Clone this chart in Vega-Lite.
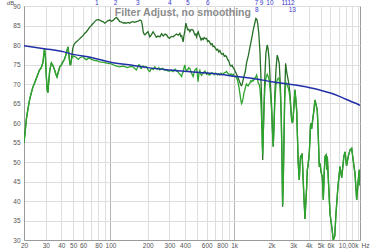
{
  "$schema": "https://vega.github.io/schema/vega-lite/v6.json",
  "width": 336,
  "height": 234,
  "autosize": "none",
  "padding": {"left": 24, "top": 6, "right": 12, "bottom": 10},
  "background": "white",
  "config": {
    "font": "Liberation Sans",
    "view": {"stroke": "#9a9a9a", "strokeWidth": 1},
    "axis": {"domainColor": "#9a9a9a", "labelColor": "#555555", "ticks": false, "gridColor": "#dedede", "gridWidth": 1, "labelOverlap": false, "labelFlush": false, "labelBound": false, "labelFontSize": 6.5, "titleFontWeight": "normal", "titleColor": "#555555"},
    "axisX": {"labelPadding": 2},
    "axisY": {"labelPadding": 4}
  },
  "datasets": {
    "before": [
      {"f":20,"db":55},{"f":20.4,"db":57.5},{"f":20.9,"db":61},{"f":21.5,"db":63.5},{"f":22.2,"db":66},{"f":22.9,"db":67.7},{"f":23.6,"db":69.2},{"f":24.4,"db":70.3},{"f":25.2,"db":71.5},{"f":26,"db":72.6},{"f":26.7,"db":73.6},{"f":27.4,"db":74},{"f":28,"db":74.8},{"f":28.5,"db":75.6},{"f":28.9,"db":77.5},{"f":29.3,"db":79},{"f":29.8,"db":77},{"f":30.3,"db":72},{"f":30.8,"db":68.5},{"f":31.2,"db":67.8},{"f":31.7,"db":70.5},{"f":32.3,"db":73.5},{"f":33.3,"db":75.4},{"f":34.2,"db":74.8},{"f":35.2,"db":73.8},{"f":36.2,"db":72.5},{"f":37,"db":71.8},{"f":37.8,"db":73},{"f":38.9,"db":74.4},{"f":40,"db":74.8},{"f":41.1,"db":75.6},{"f":42.3,"db":76.2},{"f":43.4,"db":77.2},{"f":44.4,"db":78.5},{"f":45.4,"db":79.5},{"f":46.2,"db":77.5},{"f":47,"db":75.2},{"f":47.8,"db":75},{"f":48.6,"db":77},{"f":49.5,"db":79},{"f":50.5,"db":80},{"f":52,"db":80.6},{"f":54,"db":81},{"f":56,"db":81.5},{"f":58,"db":82},{"f":60,"db":82.4},{"f":62,"db":83},{"f":64,"db":83.4},{"f":66,"db":84},{"f":68,"db":84.6},{"f":70,"db":85},{"f":72.3,"db":85.5},{"f":74.5,"db":86},{"f":77,"db":86.4},{"f":79.5,"db":86.5},{"f":82,"db":86.4},{"f":84.5,"db":86.1},{"f":87,"db":86},{"f":89.9,"db":85.6},{"f":92.5,"db":85.9},{"f":95,"db":86.2},{"f":98.7,"db":86.4},{"f":102,"db":86.1},{"f":105,"db":86.3},{"f":108.4,"db":86.8},{"f":111.9,"db":87.1},{"f":115,"db":86.6},{"f":118.9,"db":86},{"f":123,"db":85.9},{"f":127,"db":85.6},{"f":131,"db":85.7},{"f":135,"db":85.6},{"f":139,"db":85.8},{"f":143,"db":85.6},{"f":147,"db":85.9},{"f":152,"db":86},{"f":157,"db":85.8},{"f":162,"db":86},{"f":168,"db":86.1},{"f":173,"db":86.4},{"f":178,"db":86.2},{"f":181,"db":85},{"f":184,"db":83.3},{"f":187,"db":82.8},{"f":190,"db":82.6},{"f":195,"db":83},{"f":201,"db":83.4},{"f":208,"db":82.1},{"f":214,"db":82.6},{"f":221,"db":83.4},{"f":228,"db":82.7},{"f":235,"db":82},{"f":242,"db":82.3},{"f":251,"db":82.1},{"f":259,"db":82.9},{"f":267,"db":82.3},{"f":276,"db":82.8},{"f":284,"db":82.6},{"f":292,"db":82},{"f":300,"db":81.7},{"f":310,"db":82.2},{"f":321,"db":82.1},{"f":332,"db":82.5},{"f":342,"db":82.8},{"f":353,"db":82.5},{"f":364,"db":83},{"f":370,"db":82.2},{"f":376,"db":82.4},{"f":382,"db":81.5},{"f":387,"db":80.8},{"f":392,"db":82.3},{"f":399,"db":83.6},{"f":407,"db":85.6},{"f":414,"db":84.6},{"f":422,"db":83.9},{"f":430,"db":84},{"f":438,"db":83.4},{"f":446,"db":83.9},{"f":455,"db":84},{"f":466,"db":83.8},{"f":473,"db":83.2},{"f":482,"db":82.6},{"f":490,"db":82.8},{"f":497,"db":82.1},{"f":505,"db":83},{"f":512,"db":83.4},{"f":520,"db":82.7},{"f":528,"db":82.2},{"f":540,"db":81.3},{"f":550,"db":81.7},{"f":561,"db":81.4},{"f":572,"db":81.9},{"f":585,"db":81.6},{"f":598,"db":81.7},{"f":610,"db":80.9},{"f":622,"db":81.1},{"f":636,"db":80.6},{"f":650,"db":80.1},{"f":663,"db":80.3},{"f":676,"db":79.6},{"f":690,"db":79.7},{"f":705,"db":79.2},{"f":720,"db":78.7},{"f":735,"db":78.9},{"f":750,"db":78.2},{"f":766,"db":78.6},{"f":782,"db":77.9},{"f":798,"db":77.6},{"f":815,"db":77.8},{"f":832,"db":77.1},{"f":850,"db":77.3},{"f":868,"db":77},{"f":885,"db":76.3},{"f":905,"db":75.9},{"f":923,"db":74.9},{"f":942,"db":74.6},{"f":962,"db":74.8},{"f":981,"db":74.2},{"f":1000,"db":73.8},{"f":1020,"db":73.2},{"f":1046,"db":72.5},{"f":1078,"db":71.5},{"f":1112,"db":70.4},{"f":1135,"db":69.7},{"f":1150,"db":69.6},{"f":1170,"db":70.4},{"f":1200,"db":72},{"f":1230,"db":73.2},{"f":1260,"db":75.5},{"f":1300,"db":77.2},{"f":1340,"db":79.4},{"f":1383,"db":81.6},{"f":1425,"db":83.8},{"f":1460,"db":85.3},{"f":1498,"db":86.8},{"f":1525,"db":86.6},{"f":1550,"db":85.5},{"f":1580,"db":83},{"f":1614,"db":78.5},{"f":1640,"db":73},{"f":1666,"db":66},{"f":1690,"db":55},{"f":1700,"db":50.5},{"f":1715,"db":56},{"f":1739,"db":63.3},{"f":1770,"db":72},{"f":1805,"db":77.9},{"f":1849,"db":80},{"f":1880,"db":79},{"f":1918,"db":76.2},{"f":1960,"db":70},{"f":2007,"db":64.5},{"f":2040,"db":58},{"f":2068,"db":53.9},{"f":2100,"db":60},{"f":2135,"db":68},{"f":2180,"db":74},{"f":2228,"db":77.4},{"f":2270,"db":76.5},{"f":2313,"db":75.3},{"f":2360,"db":70},{"f":2400,"db":62},{"f":2430,"db":53},{"f":2464,"db":38.5},{"f":2500,"db":47},{"f":2524,"db":54.8},{"f":2560,"db":67},{"f":2605,"db":75.3},{"f":2660,"db":73},{"f":2734,"db":71},{"f":2780,"db":69.5},{"f":2823,"db":67.6},{"f":2870,"db":64},{"f":2914,"db":60.8},{"f":2960,"db":60},{"f":3000,"db":61.5},{"f":3050,"db":65},{"f":3099,"db":68.5},{"f":3150,"db":66},{"f":3199,"db":63.3},{"f":3250,"db":56},{"f":3295,"db":49.6},{"f":3357,"db":45.4},{"f":3400,"db":49},{"f":3446,"db":51.8},{"f":3500,"db":51},{"f":3540,"db":52.2},{"f":3577,"db":48.8},{"f":3650,"db":42},{"f":3734,"db":35.4},{"f":3800,"db":40},{"f":3855,"db":43.7},{"f":3900,"db":48},{"f":3950,"db":49},{"f":4046,"db":52.2},{"f":4153,"db":59.9},{"f":4230,"db":58.5},{"f":4310,"db":60.8},{"f":4400,"db":63},{"f":4499,"db":65.9},{"f":4600,"db":64.5},{"f":4697,"db":63.3},{"f":4780,"db":57},{"f":4875,"db":48.8},{"f":4950,"db":49.6},{"f":5032,"db":47.5},{"f":5150,"db":46.2},{"f":5253,"db":40.3},{"f":5340,"db":47},{"f":5421,"db":51.4},{"f":5540,"db":51.8},{"f":5600,"db":48},{"f":5659,"db":51.4},{"f":5800,"db":44},{"f":5950,"db":36.8},{"f":6150,"db":33.4},{"f":6325,"db":30},{"f":6500,"db":31},{"f":6650,"db":36.8},{"f":6900,"db":43.7},{"f":7166,"db":48.8},{"f":7400,"db":46},{"f":7700,"db":51.4},{"f":7865,"db":52.6},{"f":8100,"db":49},{"f":8363,"db":51.5},{"f":8650,"db":53.1},{"f":8909,"db":53.5},{"f":9200,"db":50},{"f":9473,"db":47.1},{"f":9777,"db":40.3},{"f":10073,"db":45.4},{"f":10263,"db":48},{"f":10400,"db":44}
    ],
    "after": [
      {"f":20,"db":55},{"f":20.4,"db":57.5},{"f":20.9,"db":61},{"f":21.5,"db":63.5},{"f":22.2,"db":66},{"f":22.9,"db":67.7},{"f":23.6,"db":69.2},{"f":24.4,"db":70.3},{"f":25.2,"db":71.5},{"f":26,"db":72.6},{"f":26.7,"db":73.6},{"f":27.4,"db":74},{"f":28,"db":74.8},{"f":28.5,"db":75.6},{"f":28.9,"db":77.5},{"f":29.3,"db":79},{"f":29.8,"db":77},{"f":30.3,"db":72},{"f":30.8,"db":68.5},{"f":31.2,"db":67.8},{"f":31.7,"db":70.5},{"f":32.3,"db":73.5},{"f":33.3,"db":75.4},{"f":34.2,"db":74.8},{"f":35.2,"db":73.8},{"f":36.2,"db":72.5},{"f":37,"db":71.8},{"f":37.8,"db":73},{"f":38.9,"db":74.4},{"f":40,"db":74.8},{"f":41.1,"db":75.6},{"f":42.3,"db":76.2},{"f":43.4,"db":77.2},{"f":44.4,"db":78.5},{"f":45.4,"db":79.5},{"f":46.2,"db":77},{"f":47,"db":75},{"f":47.8,"db":75.3},{"f":48.6,"db":76.5},{"f":49.8,"db":77.2},{"f":51.5,"db":77},{"f":53,"db":76.8},{"f":55,"db":76.3},{"f":57,"db":76.8},{"f":60,"db":77},{"f":62,"db":76.5},{"f":64,"db":76.2},{"f":66,"db":76.6},{"f":68,"db":76.6},{"f":70,"db":76.3},{"f":72.3,"db":76.2},{"f":75,"db":76},{"f":77,"db":76},{"f":80,"db":75.8},{"f":82,"db":75.7},{"f":86,"db":75.6},{"f":90,"db":75.5},{"f":95,"db":75.3},{"f":100,"db":75.2},{"f":104,"db":75},{"f":108,"db":74.8},{"f":113,"db":74.6},{"f":119,"db":74.4},{"f":124,"db":74.6},{"f":130,"db":74.5},{"f":136,"db":74.2},{"f":143,"db":74.4},{"f":148,"db":74.5},{"f":152,"db":74.4},{"f":157,"db":74},{"f":162,"db":73.6},{"f":166,"db":74.3},{"f":169,"db":74.9},{"f":172,"db":74.9},{"f":175,"db":74.1},{"f":178,"db":74},{"f":182,"db":74.6},{"f":185,"db":74.6},{"f":190,"db":74.2},{"f":193,"db":74.4},{"f":196,"db":74.4},{"f":200,"db":73.8},{"f":204,"db":73.4},{"f":208,"db":73.2},{"f":212,"db":73.8},{"f":216,"db":74},{"f":222,"db":73.7},{"f":228,"db":74.4},{"f":234,"db":74},{"f":240,"db":73.8},{"f":246,"db":74.2},{"f":251,"db":73.6},{"f":258,"db":74},{"f":265,"db":74},{"f":274,"db":73.5},{"f":284,"db":73.6},{"f":292,"db":73.3},{"f":300,"db":73.3},{"f":310,"db":73.5},{"f":321,"db":73.2},{"f":328,"db":73.6},{"f":335,"db":73.8},{"f":343,"db":73.3},{"f":350,"db":73.2},{"f":357,"db":72.8},{"f":364,"db":72.5},{"f":370,"db":72.2},{"f":376,"db":71.9},{"f":382,"db":72.8},{"f":387,"db":73},{"f":393,"db":74.2},{"f":399,"db":74.9},{"f":405,"db":73.8},{"f":412,"db":73.5},{"f":420,"db":73.6},{"f":428,"db":74.2},{"f":438,"db":74},{"f":445,"db":73.3},{"f":452,"db":72.8},{"f":459,"db":72.3},{"f":466,"db":71.9},{"f":473,"db":72.8},{"f":480,"db":73.5},{"f":488,"db":73.8},{"f":497,"db":74},{"f":504,"db":72.5},{"f":511,"db":70.6},{"f":516,"db":72},{"f":522,"db":73},{"f":528,"db":73.5},{"f":536,"db":72.6},{"f":545,"db":72.2},{"f":553,"db":72.6},{"f":561,"db":72.7},{"f":570,"db":73.1},{"f":580,"db":73.3},{"f":590,"db":72.8},{"f":598,"db":72.5},{"f":608,"db":72.9},{"f":618,"db":72.4},{"f":627,"db":72.6},{"f":636,"db":72.3},{"f":648,"db":72.6},{"f":660,"db":72.9},{"f":676,"db":72.7},{"f":690,"db":72.4},{"f":705,"db":72.8},{"f":720,"db":72.7},{"f":735,"db":72.3},{"f":750,"db":72.6},{"f":766,"db":72.3},{"f":782,"db":72.8},{"f":798,"db":72.6},{"f":815,"db":72.5},{"f":832,"db":72.9},{"f":850,"db":73},{"f":868,"db":73.2},{"f":885,"db":72.8},{"f":905,"db":72.5},{"f":923,"db":72.3},{"f":942,"db":72.6},{"f":962,"db":72.2},{"f":981,"db":72.5},{"f":1000,"db":72},{"f":1013,"db":71.9},{"f":1030,"db":71.8},{"f":1046,"db":71.5},{"f":1062,"db":71},{"f":1078,"db":70.2},{"f":1095,"db":69},{"f":1112,"db":67.6},{"f":1130,"db":66},{"f":1148,"db":65},{"f":1165,"db":65.5},{"f":1183,"db":66.5},{"f":1200,"db":67.8},{"f":1221,"db":68.5},{"f":1240,"db":69.5},{"f":1260,"db":70},{"f":1280,"db":69.6},{"f":1298,"db":69.5},{"f":1320,"db":70},{"f":1340,"db":70.2},{"f":1360,"db":70.8},{"f":1383,"db":70.6},{"f":1405,"db":71},{"f":1425,"db":70.8},{"f":1450,"db":71.2},{"f":1471,"db":71.5},{"f":1495,"db":71.8},{"f":1518,"db":72.3},{"f":1540,"db":71.5},{"f":1564,"db":70.2},{"f":1590,"db":70},{"f":1614,"db":69},{"f":1640,"db":66},{"f":1666,"db":61},{"f":1690,"db":54},{"f":1700,"db":52},{"f":1715,"db":56},{"f":1739,"db":63},{"f":1770,"db":69},{"f":1805,"db":71.5},{"f":1849,"db":72.5},{"f":1880,"db":72},{"f":1918,"db":71},{"f":1960,"db":68},{"f":2007,"db":63},{"f":2040,"db":57.5},{"f":2068,"db":54},{"f":2100,"db":59},{"f":2135,"db":66},{"f":2180,"db":70},{"f":2228,"db":71},{"f":2270,"db":71.5},{"f":2313,"db":71.5},{"f":2360,"db":68},{"f":2400,"db":62},{"f":2430,"db":52},{"f":2464,"db":39},{"f":2500,"db":47},{"f":2524,"db":55},{"f":2560,"db":66},{"f":2605,"db":70.5},{"f":2660,"db":70},{"f":2734,"db":69},{"f":2780,"db":68},{"f":2823,"db":66.5},{"f":2870,"db":63.5},{"f":2914,"db":61},{"f":2960,"db":60},{"f":3000,"db":61.5},{"f":3050,"db":65},{"f":3099,"db":68.5},{"f":3150,"db":66},{"f":3199,"db":63.3},{"f":3250,"db":56},{"f":3295,"db":49.6},{"f":3357,"db":45.4},{"f":3400,"db":49},{"f":3446,"db":51.8},{"f":3500,"db":51},{"f":3540,"db":52.2},{"f":3577,"db":48.8},{"f":3650,"db":42},{"f":3734,"db":35.4},{"f":3800,"db":40},{"f":3855,"db":43.7},{"f":3900,"db":48},{"f":3950,"db":49},{"f":4046,"db":52.2},{"f":4153,"db":59.9},{"f":4230,"db":58.5},{"f":4310,"db":60.8},{"f":4400,"db":63},{"f":4499,"db":65.9},{"f":4600,"db":64.5},{"f":4697,"db":63.3},{"f":4780,"db":57},{"f":4875,"db":48.8},{"f":4950,"db":49.6},{"f":5032,"db":47.5},{"f":5150,"db":46.2},{"f":5253,"db":40.3},{"f":5340,"db":47},{"f":5421,"db":51.4},{"f":5540,"db":51.8},{"f":5600,"db":48},{"f":5659,"db":51.4},{"f":5800,"db":44},{"f":5950,"db":36.8},{"f":6150,"db":33.4},{"f":6325,"db":30},{"f":6500,"db":31},{"f":6650,"db":36.8},{"f":6900,"db":43.7},{"f":7166,"db":48.8},{"f":7400,"db":46},{"f":7700,"db":51.4},{"f":7865,"db":52.6},{"f":8100,"db":49},{"f":8363,"db":51.5},{"f":8650,"db":53.1},{"f":8909,"db":53.5},{"f":9200,"db":50},{"f":9473,"db":47.1},{"f":9777,"db":40.3},{"f":10073,"db":45.4},{"f":10263,"db":48},{"f":10400,"db":44}
    ],
    "target": [
      {"f":20,"db":79.8},{"f":30,"db":79},{"f":40,"db":78.4},{"f":50,"db":77.6},{"f":70,"db":76.8},{"f":100,"db":75.6},{"f":150,"db":74.8},{"f":200,"db":74.2},{"f":300,"db":73.6},{"f":500,"db":73},{"f":700,"db":72.6},{"f":1000,"db":72},{"f":1500,"db":71.3},{"f":2000,"db":70.6},{"f":3000,"db":69.8},{"f":4000,"db":69.1},{"f":5000,"db":68.4},{"f":6000,"db":67.7},{"f":7000,"db":66.9},{"f":8000,"db":66.1},{"f":9000,"db":65.4},{"f":10000,"db":64.8},{"f":10400,"db":64.5}
    ],
    "markersTop": [
      {"f":77.5,"n":"1"},{"f":110,"n":"2"},{"f":166,"n":"3"},{"f":302,"n":"4"},{"f":422,"n":"5"},{"f":613,"n":"6"},{"f":1518,"n":"7"},{"f":1668,"n":"9"},{"f":1945,"n":"10"},{"f":2564,"n":"11"},{"f":2882,"n":"12"}
    ],
    "markersLow": [
      {"f":1527,"n":"8"},{"f":2950,"n":"13"}
    ],
    "titleRow": [
      {"f":385,"t":"Filter Adjust, no smoothing"}
    ]
  },
  "encoding": {
    "x": {"field": "f", "type": "quantitative",
      "scale": {"type": "log", "domain": [20, 10400], "nice": false},
      "axis": {
        "values": [20,30,40,50,60,70,80,90,100,200,300,400,500,600,700,800,900,1000,2000,3000,4000,5000,6000,7000,8000,9000,10000],
        "labelExpr": "datum.value >= 10000 ? '10,00k' : (datum.value >= 1000 ? (indexof([1000,2000,3000,4000,5000,6000], datum.value) >= 0 ? (datum.value/1000) + 'k' : '') : (indexof([20,30,40,50,60,80,100,200,300,400,600,800], datum.value) >= 0 ? datum.value + '' : ''))",
        "labelAlign": {"condition": {"test": "datum.value == 10000", "value": "right"}, "value": "center"},
        "gridColor": {"condition": {"test": "datum.value == 100 || datum.value == 1000", "value": "#b4b4b4"}, "value": "#dedede"},
        "title": "Hz", "titleX": 337, "titleY": 2, "titleAlign": "left", "titleBaseline": "top", "titleFontSize": 6.5
      }
    },
    "y": {"field": "db", "type": "quantitative",
      "scale": {"domain": [30, 90], "nice": false, "zero": false},
      "axis": {
        "values": [30,35,40,45,50,55,60,65,70,75,80,85,90],
        "title": "dB", "titleAngle": 0, "titleX": -14, "titleY": -1, "titleAlign": "center", "titleBaseline": "bottom", "titleFontSize": 6
      }
    }
  },
  "layer": [
    {
      "data": {"name": "before"},
      "mark": {"type": "line", "color": "#266f26", "strokeWidth": 1.3, "clip": true}
    },
    {
      "data": {"name": "after"},
      "mark": {"type": "line", "color": "#2ea52e", "strokeWidth": 1.3, "clip": true}
    },
    {
      "data": {"name": "target"},
      "mark": {"type": "line", "color": "#2230a8", "strokeWidth": 1.5, "interpolate": "monotone", "clip": true}
    },
    {
      "data": {"name": "markersTop"},
      "transform": [{"calculate": "90", "as": "db"}],
      "mark": {"type": "text", "color": "#3a3acc", "fontSize": 6.5, "baseline": "bottom", "align": "center", "dy": -0.5},
      "encoding": {"text": {"field": "n"}}
    },
    {
      "data": {"name": "markersLow"},
      "transform": [{"calculate": "90", "as": "db"}],
      "mark": {"type": "text", "color": "#3a3acc", "fontSize": 6.5, "baseline": "top", "align": "center", "dy": 1},
      "encoding": {"text": {"field": "n"}}
    },
    {
      "data": {"name": "titleRow"},
      "transform": [{"calculate": "90", "as": "db"}],
      "mark": {"type": "text", "color": "#8c8c8c", "fontSize": 10.5, "fontWeight": "bold", "baseline": "top", "align": "center", "dy": 1.5},
      "encoding": {"text": {"field": "t"}}
    }
  ]
}
